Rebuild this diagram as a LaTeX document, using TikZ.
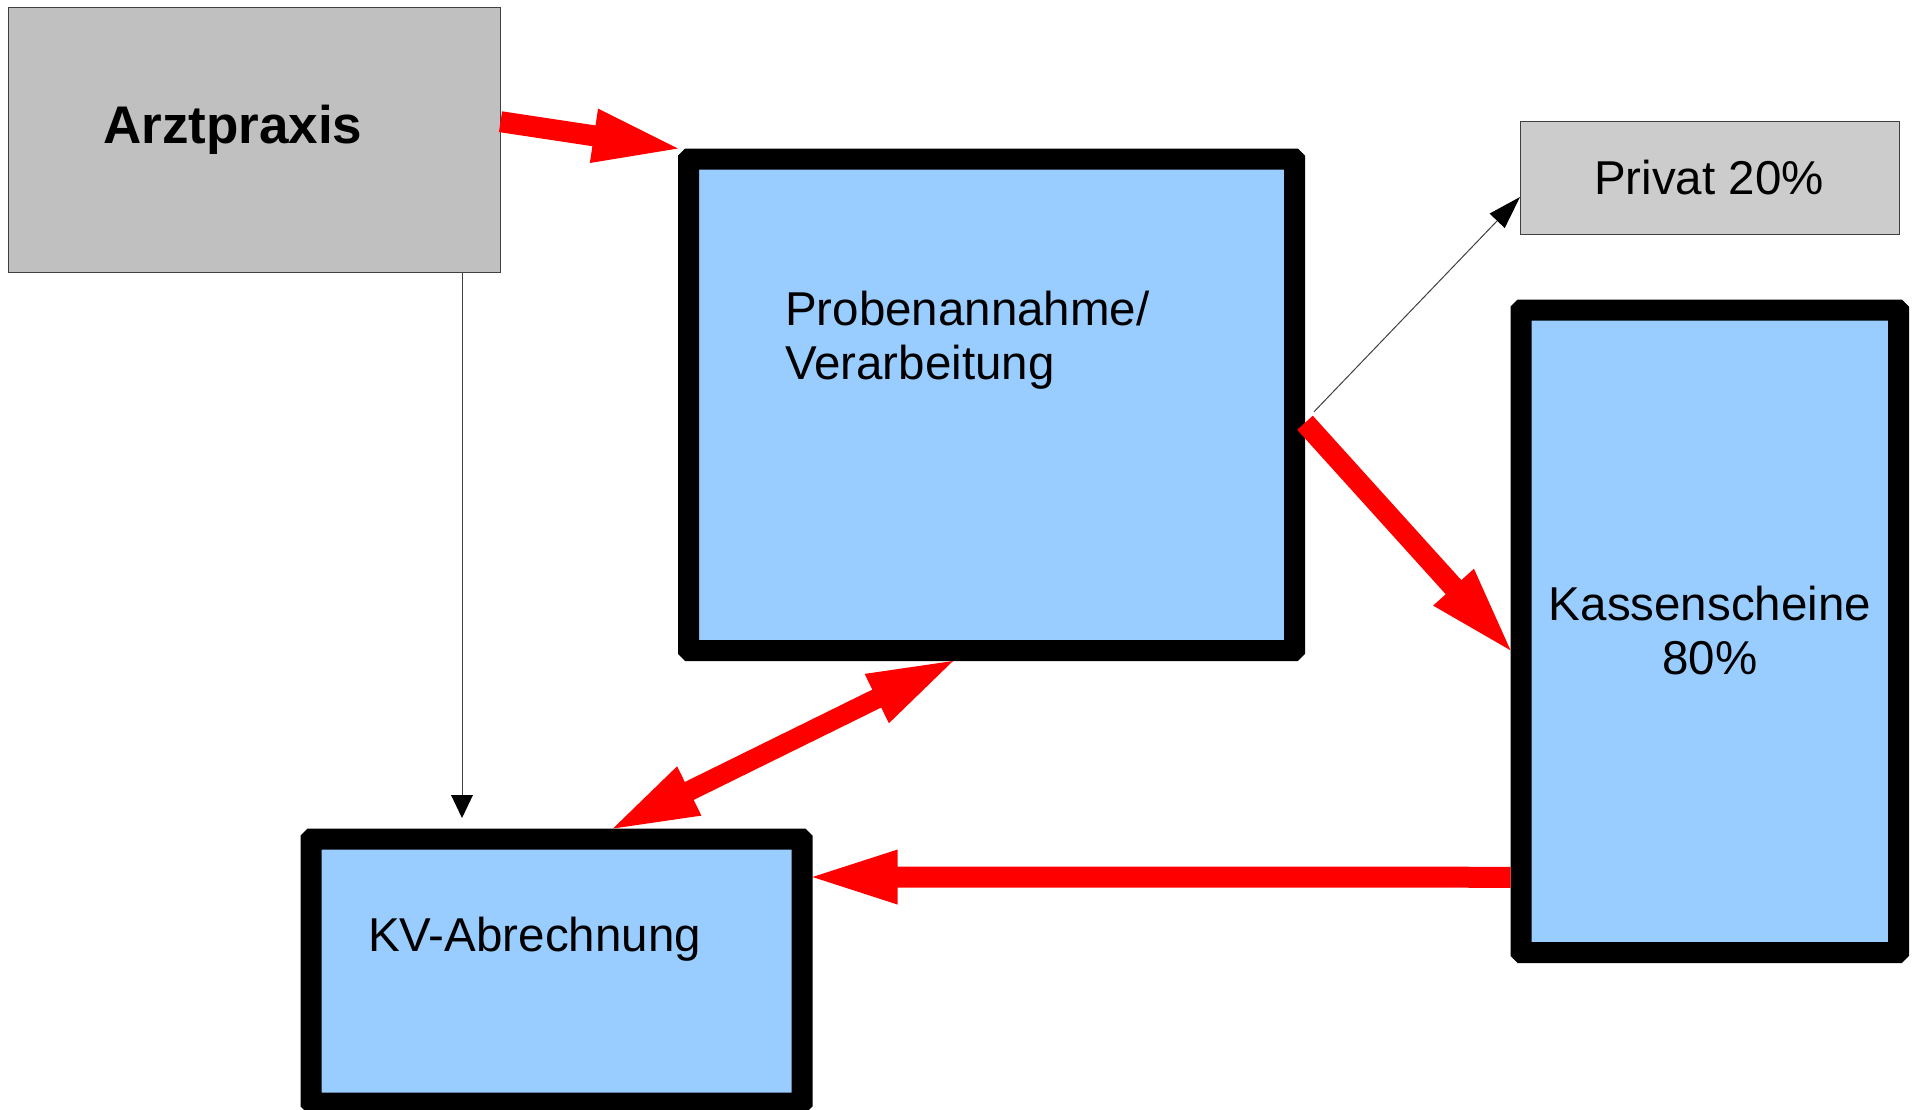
\documentclass[tikz,border=0pt]{standalone}
\usepackage{fontspec}
\setmainfont{Liberation Sans}
\usetikzlibrary{calc}
\definecolor{boxblue}{HTML}{99CCFF}
\definecolor{arztgray}{HTML}{C0C0C0}
\definecolor{privgray}{HTML}{CCCCCC}
\definecolor{thinline}{HTML}{404040}
\definecolor{arrowred}{HTML}{FF0000}
% single fat red arrow: #1 start, #2 tip
\newcommand{\fatarrow}[2]{%
  \coordinate (fab) at ($(#2)!85pt!(#1)$);
  \fill[redfill] ($(#1)!10.5pt!90:(#2)$) -- ($(fab)!10.5pt!90:(#2)$) -- ($(fab)!27.5pt!90:(#2)$) -- (#2)
    -- ($(fab)!27.5pt!-90:(#2)$) -- ($(fab)!10.5pt!-90:(#2)$) -- ($(#1)!10.5pt!-90:(#2)$) -- cycle;}
% double fat red arrow: tips at #1 and #2
\newcommand{\fatboth}[2]{%
  \coordinate (fba) at ($(#1)!85pt!(#2)$);
  \coordinate (fbb) at ($(#2)!85pt!(#1)$);
  \fill[redfill] (#1) -- ($(fba)!27.5pt!90:(#2)$) -- ($(fba)!10pt!90:(#2)$) -- ($(fbb)!10pt!90:(#2)$)
    -- ($(fbb)!27.5pt!90:(#2)$) -- (#2) -- ($(fbb)!27.5pt!-90:(#2)$) -- ($(fbb)!10pt!-90:(#2)$)
    -- ($(fba)!10pt!-90:(#2)$) -- ($(fba)!27.5pt!-90:(#2)$) -- cycle;}
% thin arrow: #1 start, #2 tip, #3 head length, #4 head half width
\newcommand{\thinarr}[4]{%
  \coordinate (tab) at ($(#2)!#3!(#1)$);
  \draw[thinconn] (#1) -- (tab);
  \fill[thinhead] ($(tab)!#4!90:(#2)$) -- (#2) -- ($(tab)!#4!-90:(#2)$) -- cycle;}
\begin{document}
\begin{tikzpicture}[x=1pt,y=-1pt,
  bluebox/.style={draw=black, line width=21pt, rounded corners=1pt, fill=boxblue, inner sep=0pt, rectangle},
  graybox/.style={draw=thinline, line width=1pt, inner sep=0pt, rectangle},
  lbl/.style={inner sep=0pt, font=\fontsize{47.5}{54}\selectfont},
  redfill/.style={fill=arrowred},
  thinconn/.style={draw=thinline, line width=1pt},
  thinhead/.style={fill=black}
]
\useasboundingbox (0,0) rectangle (1916,1109);

% boxes
\node[graybox, fill=arztgray, minimum width=492pt, minimum height=265pt] (arzt) at (254,139.7) {};
\node[graybox, fill=privgray, minimum width=378.5pt, minimum height=113pt] (priv) at (1709.75,177.5) {};
\node[bluebox, minimum width=606pt, minimum height=491.5pt] (prob) at (991.5,404.75) {};
\node[bluebox, minimum width=377.5pt, minimum height=642.5pt] (kass) at (1709.75,631.25) {};
\node[bluebox, minimum width=491pt, minimum height=264pt] (kv) at (556.5,971) {};

% texts
\node[inner sep=0pt, anchor=base west, font=\fontsize{53}{60}\selectfont\bfseries] (arzt-t) at (103,143) {Arztpraxis};
\node[lbl, anchor=base] (priv-t) at (1709,194) {Privat 20\%};
\node[lbl, anchor=base west, align=left] (prob-t) at (785,379) {Probenannahme/\\Verarbeitung};
\node[lbl, anchor=base, align=center] (kass-t) at (1710,674) {Kassenscheine\\80\%};
\node[lbl, anchor=base west] (kv-t) at (368,951) {KV-Abrechnung};

% connector end points
\coordinate (t1s) at ([xshift=208pt]arzt.south);
\coordinate (t1e) at ([xshift=-94.5pt,yshift=10.5pt]kv.north);
\coordinate (t2s) at ([xshift=9pt,yshift=-7pt]prob.east);
\coordinate (t2e) at ([yshift=-19.5pt]priv.west);
\coordinate (r1s) at ([yshift=18pt]arzt.east);
\coordinate (r1e) at (prob.north west);
\coordinate (r2s) at ([yshift=-18pt]prob.east);
\coordinate (r2e) at ([yshift=-19pt]kass.west);
\coordinate (r3s) at ([xshift=56.5pt]kv.north);
\coordinate (r3e) at ([xshift=-38.5pt]prob.south);
\coordinate (r4s) at ([yshift=-246pt]kass.west);
\coordinate (r4e) at ([yshift=94pt]kv.east);

% thin connectors
\thinarr{t1s}{t1e}{23pt}{11pt}
\thinarr{t2s}{t2e}{33pt}{10.5pt}

% red connectors
\fatarrow{r1s}{r1e}
\fatarrow{r2s}{r2e}
\fatboth{r3s}{r3e}
\fatarrow{r4s}{r4e}
\end{tikzpicture}
\end{document}
